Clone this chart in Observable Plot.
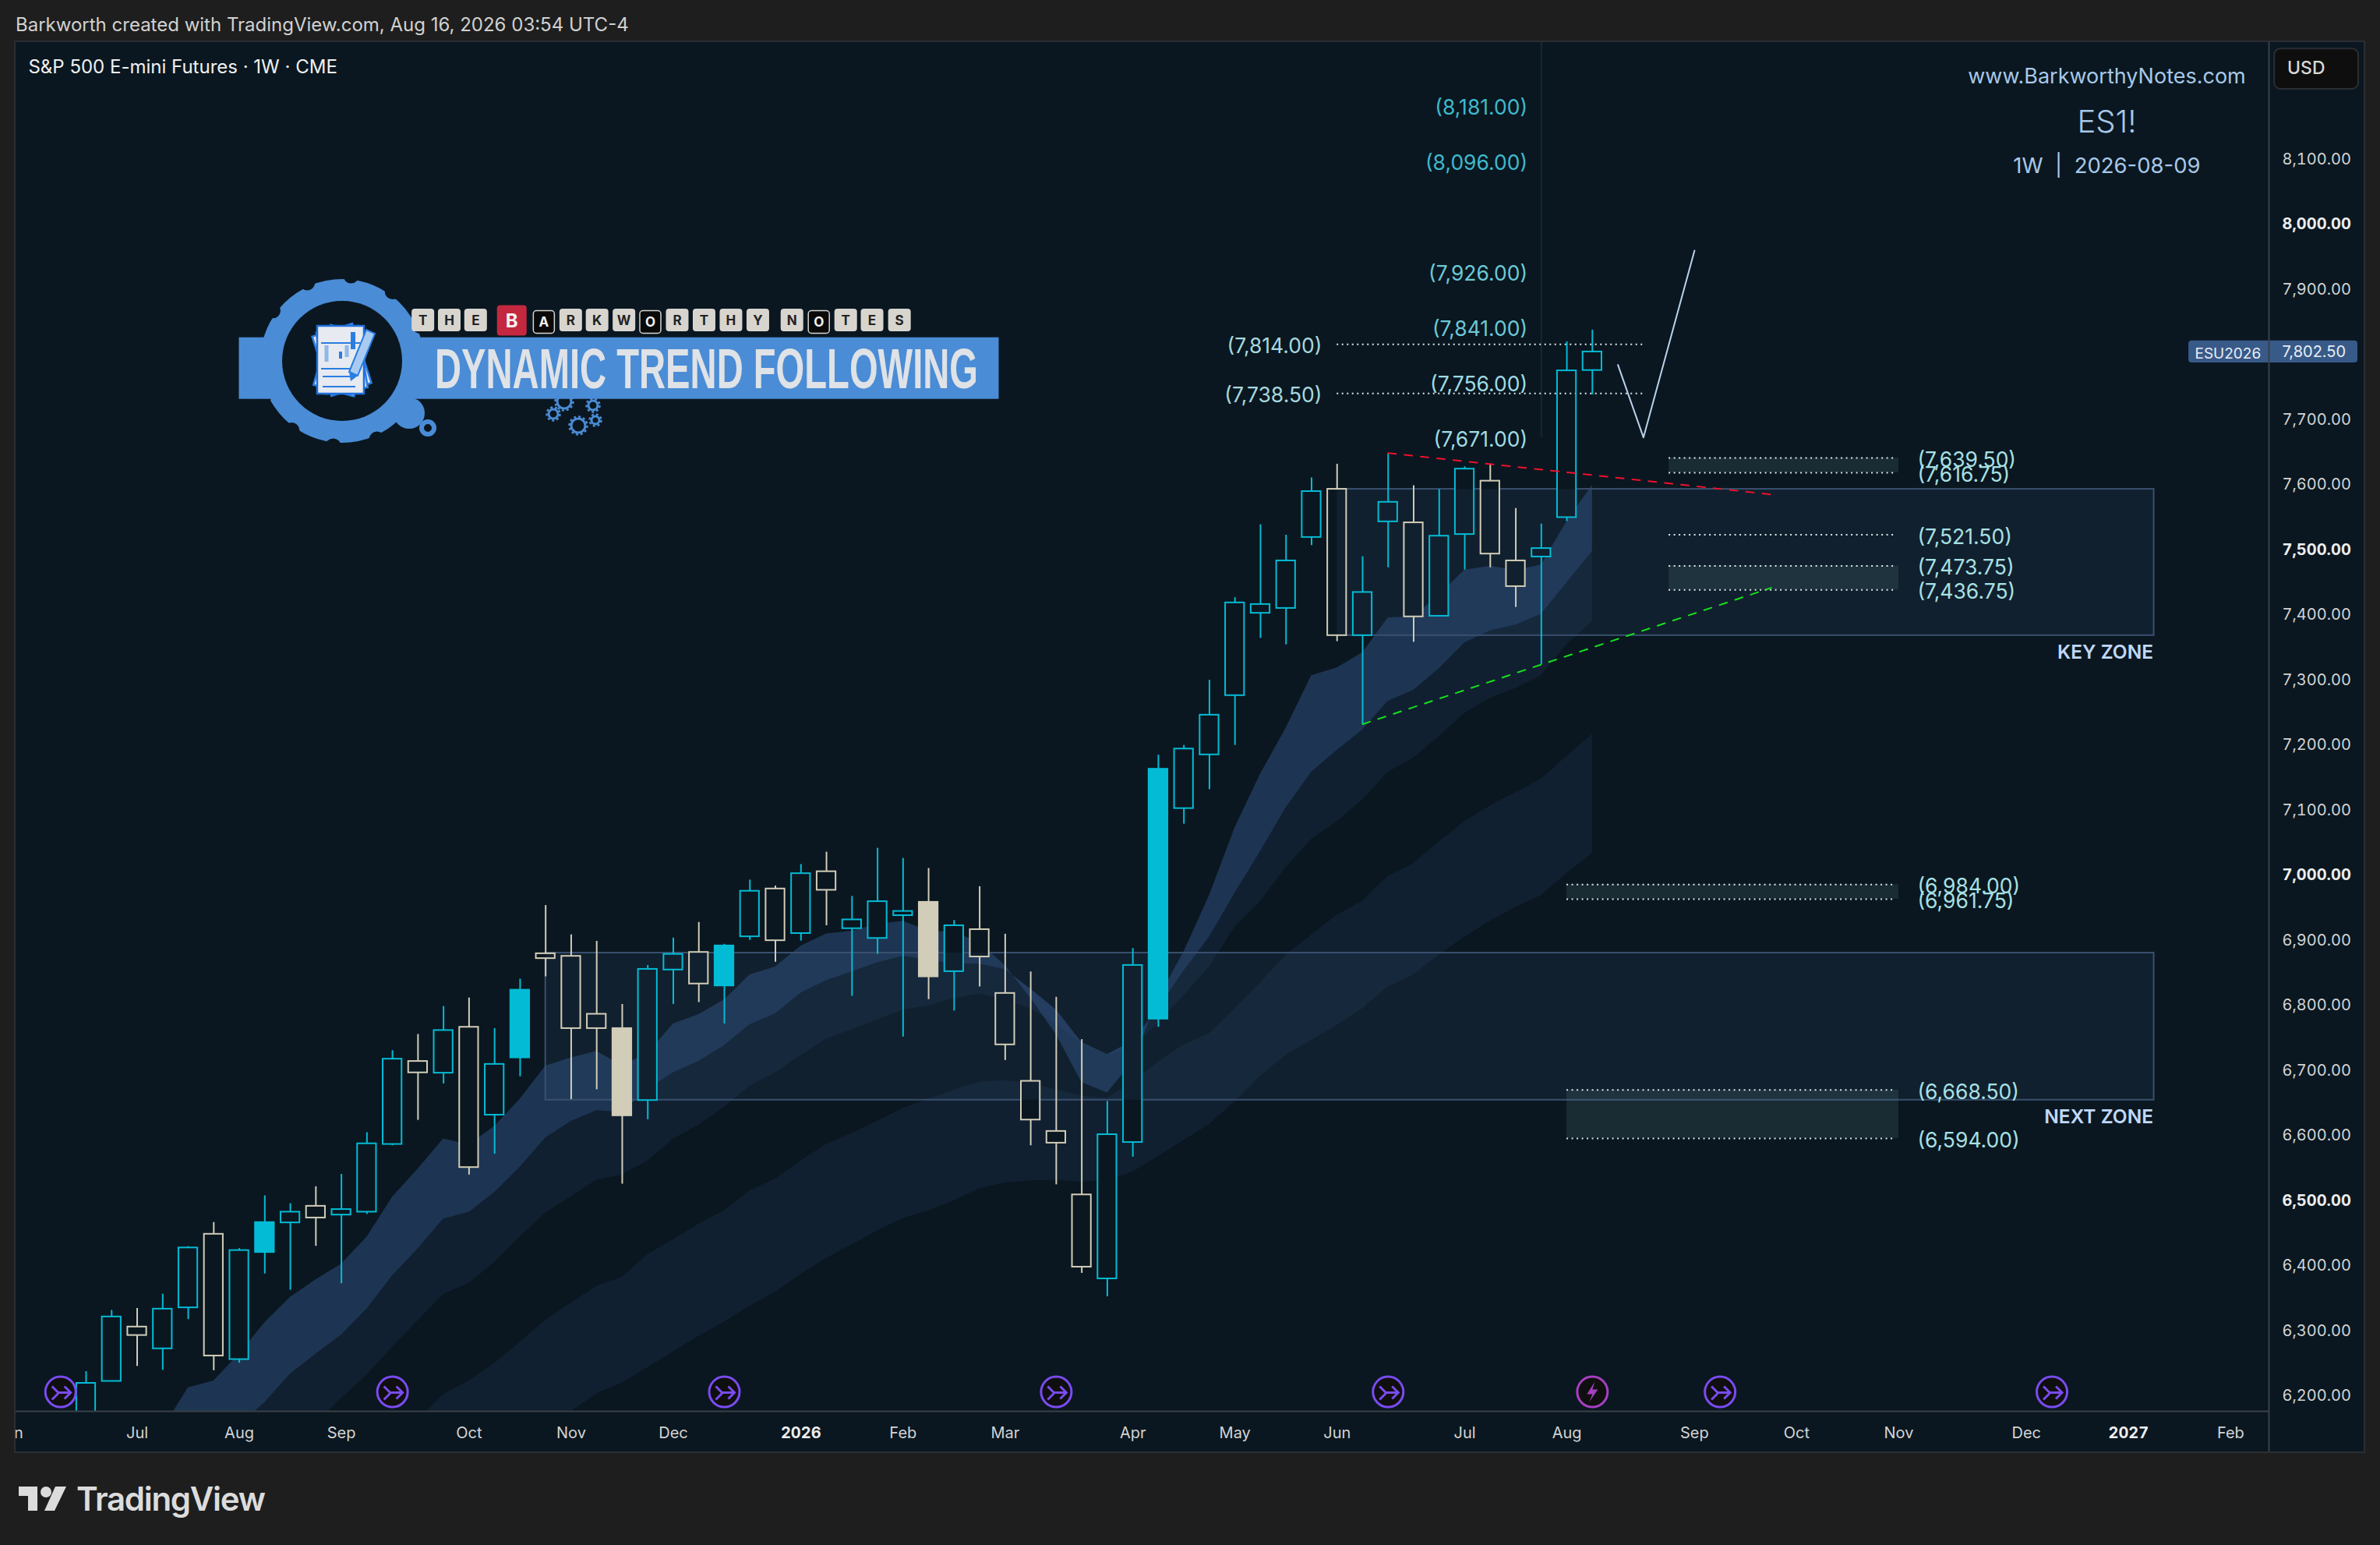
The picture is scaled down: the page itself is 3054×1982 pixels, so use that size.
<!DOCTYPE html>
<html>
<head>
<meta charset="utf-8">
<script src="https://cdn.jsdelivr.net/npm/d3@7"></script>
<script src="https://cdn.jsdelivr.net/npm/@observablehq/plot@0.6"></script>
<style>
html,body{margin:0;padding:0;background:#1e1e1e;font-family:Inter,sans-serif;overflow:hidden;}
#page{position:relative;width:3054px;height:1982px;}
#hdr{position:absolute;left:20px;top:17px;font-size:24px;line-height:30px;color:#d1d1d1;white-space:nowrap;}
#chart{position:absolute;left:20px;top:54px;outline:2px solid #2a2e33;}
#foot{position:absolute;left:24px;top:1904px;height:38px;display:flex;align-items:center;color:#dcdcdc;}
#foot span{position:absolute;left:74px;top:-7px;font-size:42px;line-height:52px;font-weight:600;letter-spacing:-1.3px;white-space:nowrap;}
</style>
</head>
<body>
<div id="page">
<div id="hdr">Barkworth created with TradingView.com, Aug 16, 2026 03:54 UTC-4</div>
<div id="chart"></div>
<div id="foot">
<svg width="62" height="34" viewBox="0 0 62 34"><path fill="#dcdcdc" d="M0 1H24V32H12V13H0Z"/><circle cx="35" cy="8" r="7" fill="#dcdcdc"/><path fill="#dcdcdc" d="M47 1H61L46 32H33Z"/></svg>
<span>TradingView</span>
</div>
</div>
<script>
// ---------- weekly candles (index 0 = first visible week) ----------
const highs = [6236,6330,6333,6355,6428,6465,6425,6506,6494,6520,6539,6603,6729,6754,6797,6810,6763,6839,6952,6907,6897,6800,6860,6902,6926,6892.5,6991,6982,7015,7034,6966,7040,7024.5,7009,6929,6981,6908,6850,6811,6746,6651,6886,7183,7198,7298,7425,7537,7521,7609,7630,7488,7646,7597,7591,7626,7630,7562,7538,7818,7836];
const bodyTops = [6218,6320,6304.5,6332,6426,6447,6422,6465,6481,6490,6485,6586,6716,6712.5,6760,6765,6708,6822,6878,6874,6785,6763,6854,6877,6880,6890,6974,6977.5,7001,7004,6930,6958,6943,6957,6921,6915,6817,6682,6605,6507.5,6600,6860,7161.5,7192.5,7244.5,7417,7414.5,7481.5,7588,7591.5,7433,7571.5,7540,7519.5,7622.5,7604,7481.5,7500.5,7773.5,7802.5];
const bodyBottoms = [6150,6221,6291.5,6271,6334,6260,6254.5,6419,6464.5,6472,6476.5,6481,6585,6695,6694.5,6549.5,6630,6718,6870.5,6763,6763,6629,6652.5,6853,6831.5,6828.5,6904,6898,6909,6975.5,6916.5,6901.5,6936.5,6842.5,6850.5,6873,6738,6622.5,6587,6396.5,6378.5,6588,6777.5,7101,7183.5,7274.5,7401,7408.5,7517.5,7366.7,7366.7,7541.5,7395.5,7396.5,7522,7492,7442,7487.5,7548,7774];
const lows = [6130,6221,6244,6238,6316,6237.5,6249,6386,6361,6428.5,6371,6477.5,6583,6622,6678,6538,6570,6689,6842.5,6654,6669,6524,6623,6800,6803,6770,6898.5,6865,6897.5,6921,6812.5,6877,6750,6807.5,6790,6827,6714,6583,6523,6387,6351,6565.5,6765,7077,7130,7198,7362.5,7352.5,7505,7357.5,7230.5,7471,7356.5,7396.5,7467.5,7471,7410,7322,7542,7736.5];
const creamWeeks = [2,5,9,13,15,18,19,20,21,24,27,29,33,35,36,37,38,39,49,52,55,56];
const solidWeeks = [7,17,21,25,33,42];

// ---------- moving-average ribbon edges ----------
const ribbonA = [null,null,null,6148,6211,6221.5,6263,6311,6350,6377,6401,6442.5,6504,6547,6593.5,6584.5,6612.5,6654.5,6705.5,6718,6728,6706,6724.5,6770,6784.5,6807,6845.5,6857.5,6889.5,6908.5,6912.5,6923,6928,6913,6911,6895,6859.5,6809.5,6753.5,6680,6664,6711.5,6809.5,6881,6967.5,7071.5,7154,7224.5,7305,7317,7340.5,7394,7395.5,7429,7467.5,7473,7467,7475,7542,7598];
const ribbonB = [null,null,null,6020,6065,6110,6153,6188.5,6232,6263,6292,6332,6383,6424.5,6470.5,6480.5,6511,6550,6595,6620.5,6637,6634,6669.5,6695,6712.5,6736.5,6769,6785.5,6817.5,6836.5,6850,6864,6874,6868,6862,6862,6853.5,6823.5,6791.5,6741.5,6723,6743.5,6793.5,6851.5,6903.5,6971,7035,7102,7157,7190.5,7221.5,7266,7282.5,7316,7355.5,7374,7383,7399.5,7447.5,7496];
const ribbonC = [null,null,null,null,null,null,6030,6070,6110,6156,6194.5,6230.5,6273.5,6314,6354.5,6372,6403.5,6442.5,6480,6504.5,6530,6538,6559.5,6593,6614.5,6642,6674.5,6695,6721.5,6747,6761,6776.5,6791.5,6798,6809,6816,6807,6793.5,6769.5,6739.5,6721.5,6733.5,6771.5,6813.5,6858,6919,6958.5,7010.5,7053.5,7081,7114.5,7157,7178.5,7212,7247.5,7270,7285.5,7305.5,7352.5,7388];
const ribbonD = [null,null,null,null,null,null,null,null,null,null,null,null,null,6162,6200.5,6221.5,6248.5,6281,6315,6341,6367,6381,6416,6438.5,6463,6483,6513.5,6532,6559.5,6585,6602,6620.5,6640,6654.5,6668.5,6680.5,6683,6678.5,6669,6659,6656,6680,6712,6738,6755.5,6793,6833.5,6876,6906.5,6937,6958.5,6997,7016.5,7050,7081,7105,7125.5,7146,7181.5,7215];
const ribbonE = [null,null,null,null,null,null,null,null,null,null,null,null,null,5990,6030,6060,6095,6125,6153,6174.5,6202,6218.5,6242,6266.5,6290.5,6312,6336.5,6358,6385.5,6410,6431,6452.5,6471,6483,6498.5,6517,6526,6529,6530,6527,6530,6542.5,6566.5,6591,6616,6651,6690,6722,6745,6768,6793.5,6827,6845.5,6876,6903.5,6928,6949.5,6967.5,7001.5,7032];

// ---------- axes ----------
const priceTicks = [8100,7900,7700,7600,7400,7300,7200,7100,6900,6800,6700,6600,6400,6300,6200];
const priceTicksBold = [8000,7500,7000,6500];
const timeTickWeeks = [-3,2,6,10,15,19,23,32,36,41,45,49,54,58,63,67,71,76,84];
const timeTickLabels = ["Jun","Jul","Aug","Sep","Oct","Nov","Dec","Feb","Mar","Apr","May","Jun","Jul","Aug","Sep","Oct","Nov","Dec","Feb"];
const yearTickWeeks = [28,80];
const yearTickLabels = ["2026","2027"];

// ---------- drawn levels ----------
const projectionWeeks = [60,61,63];
const projectionPrices = [7782.5,7671,7958];
const targetLevels = [8181,8096,7926,7841,7756,7671];
const targetColors = ["#3fb9cc","#3fb9cc","#6cc8d6","#6cc8d6","#9fdbe4","#9fdbe4"];
const leftLevels = [7814,7738.5];
const sideLevels = [7639.5,7616.75,7521.5,7473.75,7436.75];
const lowerLevels = [6984,6961.75,6668.5,6594];
const supplyBands = [[7639.5,7616.75,62],[7473.75,7436.75,62],[6984,6961.75,58],[6668.5,6594,58]];
const zones = [["KEY ZONE",49,7591.5,7366.7],["NEXT ZONE",18,6879,6653]];
const splitEvents = [-1,12,25,38,51,64,77];
const earningsEvents = [59];

const CYAN="#04bbd5", CREAM="#d2cdb8", BG="#0a1720", RIB="#2e4e7d";
const candles = highs.map((h,i)=>({i,h,t:bodyTops[i],b:bodyBottoms[i],l:lows[i],
  c:creamWeeks.includes(i)?CREAM:CYAN,s:solidWeeks.includes(i)}));
const ribbon = ribbonA.map((a,i)=>({i,a,b:ribbonB[i],c:ribbonC[i],d:ribbonD[i],e:ribbonE[i]}));
const money = d3.format(",.2f");
const W = 0.37;

const splitGlyph = {draw(c){
  c.moveTo(-11,-7);c.lineTo(-3,1);c.lineTo(13,1);
  c.moveTo(5,-7);c.lineTo(13,1);c.lineTo(5,9);
  c.moveTo(-11,10);c.lineTo(-3,2);
}};
const boltGlyph = {draw(c){
  c.moveTo(3,-13);c.lineTo(-7,3);c.lineTo(0,3);c.lineTo(-4,13);c.lineTo(7,-3);c.lineTo(0,-3);c.closePath();
}};

function logo(){
  const g = d3.create("svg:g").attr("transform","translate(-20,-54)").attr("text-anchor","start").style("font-family","Inter, sans-serif");
  const blue="#4a8cd6";
  const cx=439, cy=463;
  g.append("circle").attr("cx",cx).attr("cy",cy).attr("r",105).attr("fill",blue);
  for(let k=0;k<12;k++){
    const a=(k*30+6)*Math.PI/180;
    g.append("circle").attr("cx",cx+110*Math.sin(a)).attr("cy",cy-110*Math.cos(a)).attr("r",10).attr("fill",BG);
  }
  g.append("rect").attr("x",306.5).attr("y",432.7).attr("width",975).attr("height",79).attr("fill",blue);
  g.append("circle").attr("cx",525).attr("cy",530).attr("r",20).attr("fill",blue);
  g.append("circle").attr("cx",549).attr("cy",549).attr("r",8).attr("fill","none").attr("stroke",blue).attr("stroke-width",6);
  g.append("circle").attr("cx",cx).attr("cy",cy).attr("r",77).attr("fill",BG);
  // document icon
  for(const r of [-18,16,-9]){
    g.append("rect").attr("x",412).attr("y",422).attr("width",54).attr("height",80).attr("fill","#dfe5f0").attr("stroke","#2a7de1").attr("stroke-width",2.5)
      .attr("transform",`rotate(${r} 437 463)`);
  }
  g.append("rect").attr("x",407).attr("y",418).attr("width",60).attr("height",87).attr("fill","#e7eaf0").attr("stroke","#1f6fdc").attr("stroke-width",2.5);
  [[412,440,462],[412,473,461],[414,483,452],[414,496,456]].forEach(([x,y,x2])=>{
    g.append("line").attr("x1",x).attr("x2",x2).attr("y1",y).attr("y2",y).attr("stroke","#2a7de1").attr("stroke-width",2);
  });
  [[419,443,464,"#8fb8ea",5],[445,443,458,"#8fb8ea",5],[437,451,460,"#2a7de1",4]].forEach(([x,a,b,col,w])=>{
    g.append("rect").attr("x",x-w/2).attr("y",a).attr("width",w).attr("height",b-a).attr("fill",col);
  });
  g.append("rect").attr("x",450).attr("y",426).attr("width",6).attr("height",22).attr("fill","#2a7de1");
  g.append("polygon").attr("points","470,423 481,428 459,482 448,477").attr("fill","#a9cbf2").attr("stroke","#2a7de1").attr("stroke-width",2);
  g.append("polygon").attr("points","448,477 459,482 450,489").attr("fill","#2a7de1");
  // small gears
  [[724,515,9],[710,531,6],[742,546,9],[761,520,6],[764,539,5]].forEach(([x,y,r])=>{
    g.append("circle").attr("cx",x).attr("cy",y).attr("r",r).attr("fill","none").attr("stroke",blue).attr("stroke-width",3);
    g.append("circle").attr("cx",x).attr("cy",y).attr("r",r+2.5).attr("fill","none").attr("stroke",blue).attr("stroke-width",2.5).attr("stroke-dasharray","3,3");
  });
  // letter tiles
  const tiles=[["T",396],["H",447],["E",498],["B",568,"r"],["A",630,"k"],["R",682],["K",733],["W",785],["O",836,"k"],["R",888],["T",940],["H",992],["Y",1044],["N",1110],["O",1162,"k"],["T",1214],["E",1265],["S",1318]];
  tiles.forEach(([ch,zx,kind])=>{
    const x=280+zx/1.5077;
    const w=kind==="r"?38:kind==="k"?27:29, h=kind==="r"?39:29, y=kind==="k"?413:kind==="r"?411:410.5;
    g.append("rect").attr("x",x-w/2).attr("y",y-h/2).attr("width",w).attr("height",h).attr("rx",4)
      .attr("fill",kind==="r"?"#c4283f":kind==="k"?"#0a0a0a":"#d8d5cf").attr("stroke",kind==="k"?"#d8d5cf":"none").attr("stroke-width",1.5);
    g.append("text").attr("x",x).attr("y",y).attr("dy","0.36em").attr("text-anchor","middle")
      .attr("font-size",kind==="r"?24:17).attr("font-weight",700).attr("fill",kind==="r"||kind==="k"?"#f2f2f2":"#222").text(ch);
  });
  g.append("text").attr("x",558).attr("y",498).attr("font-size",72).attr("font-weight",700)
    .style("font-family","'Liberation Sans Narrow','Liberation Sans',sans-serif")
    .attr("textLength",697).attr("lengthAdjust","spacingAndGlyphs").attr("fill","#dfe2e6").text("DYNAMIC TREND FOLLOWING");
  return g.node();
}

const fontAxis = {fontSize:20, tickSize:0, label:null};
const chart = Plot.plot({
  width:3013, height:1808,
  marginLeft:0, marginRight:122, marginTop:0, marginBottom:52,
  style:{background:BG, fontFamily:"Inter, sans-serif", display:"block", maxWidth:"none"},
  x:{type:"linear", domain:[-2.747,85.5]},
  y:{type:"linear", domain:[6174.9,8277.8]},
  marks:[
    Plot.ruleX([57],{y1:7671,y2:8277.8,stroke:"#122a38",strokeWidth:2}),
    // ribbons
    Plot.areaY(ribbon,{x:"i",y1:"e",y2:"d",fill:RIB,fillOpacity:0.18,clip:true}),
    Plot.areaY(ribbon,{x:"i",y1:"c",y2:"b",fill:RIB,fillOpacity:0.18,clip:true}),
    Plot.areaY(ribbon,{x:"i",y1:"b",y2:"a",fill:RIB,fillOpacity:0.55,clip:true}),
    // zone borders
    Plot.rect(zones,{x1:d=>d[1],x2:81,y1:d=>d[2],y2:d=>d[3],fill:"none",stroke:"#3a506e",strokeWidth:2}),
    // hollow interiors
    Plot.rect(candles.filter(d=>!d.s),{x1:d=>d.i-W,x2:d=>d.i+W,y1:"b",y2:"t",fill:BG,clip:true}),
    // zone fills
    Plot.rect(zones,{x1:d=>d[1],x2:81,y1:d=>d[2],y2:d=>d[3],fill:"#3c5a82",fillOpacity:0.15}),
    Plot.text(zones,{x:81,y:d=>d[3],dy:22,dx:-1,text:d=>d[0],textAnchor:"end",fontSize:24.5,fontWeight:600,fill:"#c0d8f8"}),
    // supply / demand bands and dotted levels
    Plot.rect(supplyBands,{x1:d=>d[2],x2:71,y1:d=>d[0],y2:d=>d[1],fill:"#5a8282",fillOpacity:0.2}),
    Plot.ruleY(sideLevels,{x1:62,x2:70.8,stroke:"#d8e8e8",strokeWidth:2,strokeDasharray:"2,4.5"}),
    Plot.ruleY(lowerLevels,{x1:58,x2:70.8,stroke:"#d8e8e8",strokeWidth:2,strokeDasharray:"2,4.5"}),
    Plot.ruleY(leftLevels,{x1:49,x2:61,stroke:"#d8e8e8",strokeWidth:2,strokeDasharray:"2,4.5"}),
    // candles
    Plot.ruleX(candles,{x:"i",y1:"t",y2:"h",stroke:"c",strokeWidth:2,clip:true}),
    Plot.ruleX(candles,{x:"i",y1:"l",y2:"b",stroke:"c",strokeWidth:2,clip:true}),
    Plot.rect(candles,{x1:d=>d.i-W,x2:d=>d.i+W,y1:"b",y2:"t",fill:d=>d.s?d.c:"none",stroke:"c",strokeWidth:2,clip:true}),
    // trend lines
    Plot.line([[51,7647],[66,7583.5]],{x:d=>d[0],y:d=>d[1],stroke:"#f0102c",strokeWidth:2,strokeDasharray:"10,11"}),
    Plot.line([[50,7230.5],[66,7440]],{x:d=>d[0],y:d=>d[1],stroke:"#16e01c",strokeWidth:2,strokeDasharray:"10,11"}),
    Plot.line(projectionWeeks,{x:d=>d,y:(d,i)=>projectionPrices[i],stroke:"#bcd2ec",strokeWidth:2}),
    // labels
    Plot.text(targetLevels,{x:56.46,y:d=>d,dy:3,text:d=>`(${money(d)})`,textAnchor:"end",fontSize:26.5,fill:(d,i)=>targetColors[i]}),
    Plot.text(leftLevels,{x:48.41,y:d=>d,dy:3,text:d=>`(${money(d)})`,textAnchor:"end",fontSize:26.5,fill:"#a6d8df"}),
    Plot.text(sideLevels,{x:71.73,y:d=>d,dy:3,text:d=>`(${money(d)})`,textAnchor:"start",fontSize:26.5,fill:"#a8e0e4"}),
    Plot.text(lowerLevels,{x:71.73,y:d=>d,dy:3,text:d=>`(${money(d)})`,textAnchor:"start",fontSize:26.5,fill:"#a8e0e4"}),
    // header texts
    Plot.text(["S&P 500 E-mini Futures · 1W · CME"],{x:-2.26,y:8240.2,textAnchor:"start",fontSize:24,fill:"#f0f0f0"}),
    Plot.text(["www.BarkworthyNotes.com"],{x:79.15,y:8225,fontSize:27,fill:"#a8c8e8"}),
    Plot.text(["ES1!"],{x:79.15,y:8154.5,fontSize:40,fontWeight:300,fill:"#a8c8e8"}),
    Plot.text(["1W\u00a0\u00a0|\u00a0\u00a02026-08-09"],{x:79.15,y:8087.5,fontSize:27.5,fill:"#a8c8e8"}),
    logo,
    // events
    Plot.dot(splitEvents,{x:d=>d,y:6204.8,r:19.5,fill:"#0f0f0f",stroke:"#7a4bf0",strokeWidth:3}),
    Plot.dot(splitEvents,{x:d=>d,y:6204.8,r:19.5,symbol:splitGlyph,fill:"none",stroke:"#7a4bf0",strokeWidth:3}),
    Plot.dot(earningsEvents,{x:d=>d,y:6204.8,r:19.5,fill:"#0f0f0f",stroke:"#a63fc0",strokeWidth:3}),
    Plot.dot(earningsEvents,{x:d=>d,y:6204.8,r:19.5,symbol:boltGlyph,fill:"#a63fc0",stroke:"none"}),
    // axis lines
    Plot.ruleY([6174.9],{x1:-2.747,x2:85.5,stroke:"#3b4048",strokeWidth:2}),
    Plot.ruleX([85.5],{y1:6112.7,y2:8277.8,stroke:"#3b4048",strokeWidth:2}),
    // price badge
    Plot.rect([7802.5],{x1:82.36,x2:88.98,y1:7785.5,y2:7819.5,fill:"#385a88",rx:4}),
    Plot.ruleX([85.5],{y1:7785.5,y2:7819.5,stroke:"#3b4048",strokeWidth:2}),
    Plot.text(["ESU2026"],{x:82.6,y:7800,textAnchor:"start",fontSize:19,fill:"#e8eef5"}),
    Plot.text([7802.5],{x:86.02,y:d=>d,text:d=>money(d),textAnchor:"start",fontSize:20,fill:"#e8eef5"}),
    // currency box
    Plot.rect(["USD"],{x1:85.72,x2:89.01,y1:8206,y2:8268,fill:"#0e0e0e",stroke:"#2a2e33",strokeWidth:2,rx:8}),
    Plot.text(["USD"],{x:86.22,y:8238,textAnchor:"start",fontSize:23,fontWeight:500,fill:"#d8d8d8"}),
    // axes
    Plot.axisY({...fontAxis,anchor:"right",ticks:priceTicks,tickPadding:17,tickFormat:money,color:"#d4d4d4",textAnchor:"start",dy:1.5}),
    Plot.axisY({...fontAxis,anchor:"right",ticks:priceTicksBold,tickPadding:17,tickFormat:money,color:"#eeeeee",fontWeight:700,textAnchor:"start",dy:1.5}),
    Plot.axisX({...fontAxis,anchor:"bottom",ticks:timeTickWeeks,tickPadding:20,tickFormat:d=>timeTickLabels[timeTickWeeks.indexOf(d)],color:"#d4d4d4"}),
    Plot.axisX({...fontAxis,anchor:"bottom",ticks:yearTickWeeks,tickPadding:20,tickFormat:d=>yearTickLabels[yearTickWeeks.indexOf(d)],color:"#eeeeee",fontWeight:700})
  ]
});
document.getElementById("chart").appendChild(chart);
</script>
</body>
</html>
